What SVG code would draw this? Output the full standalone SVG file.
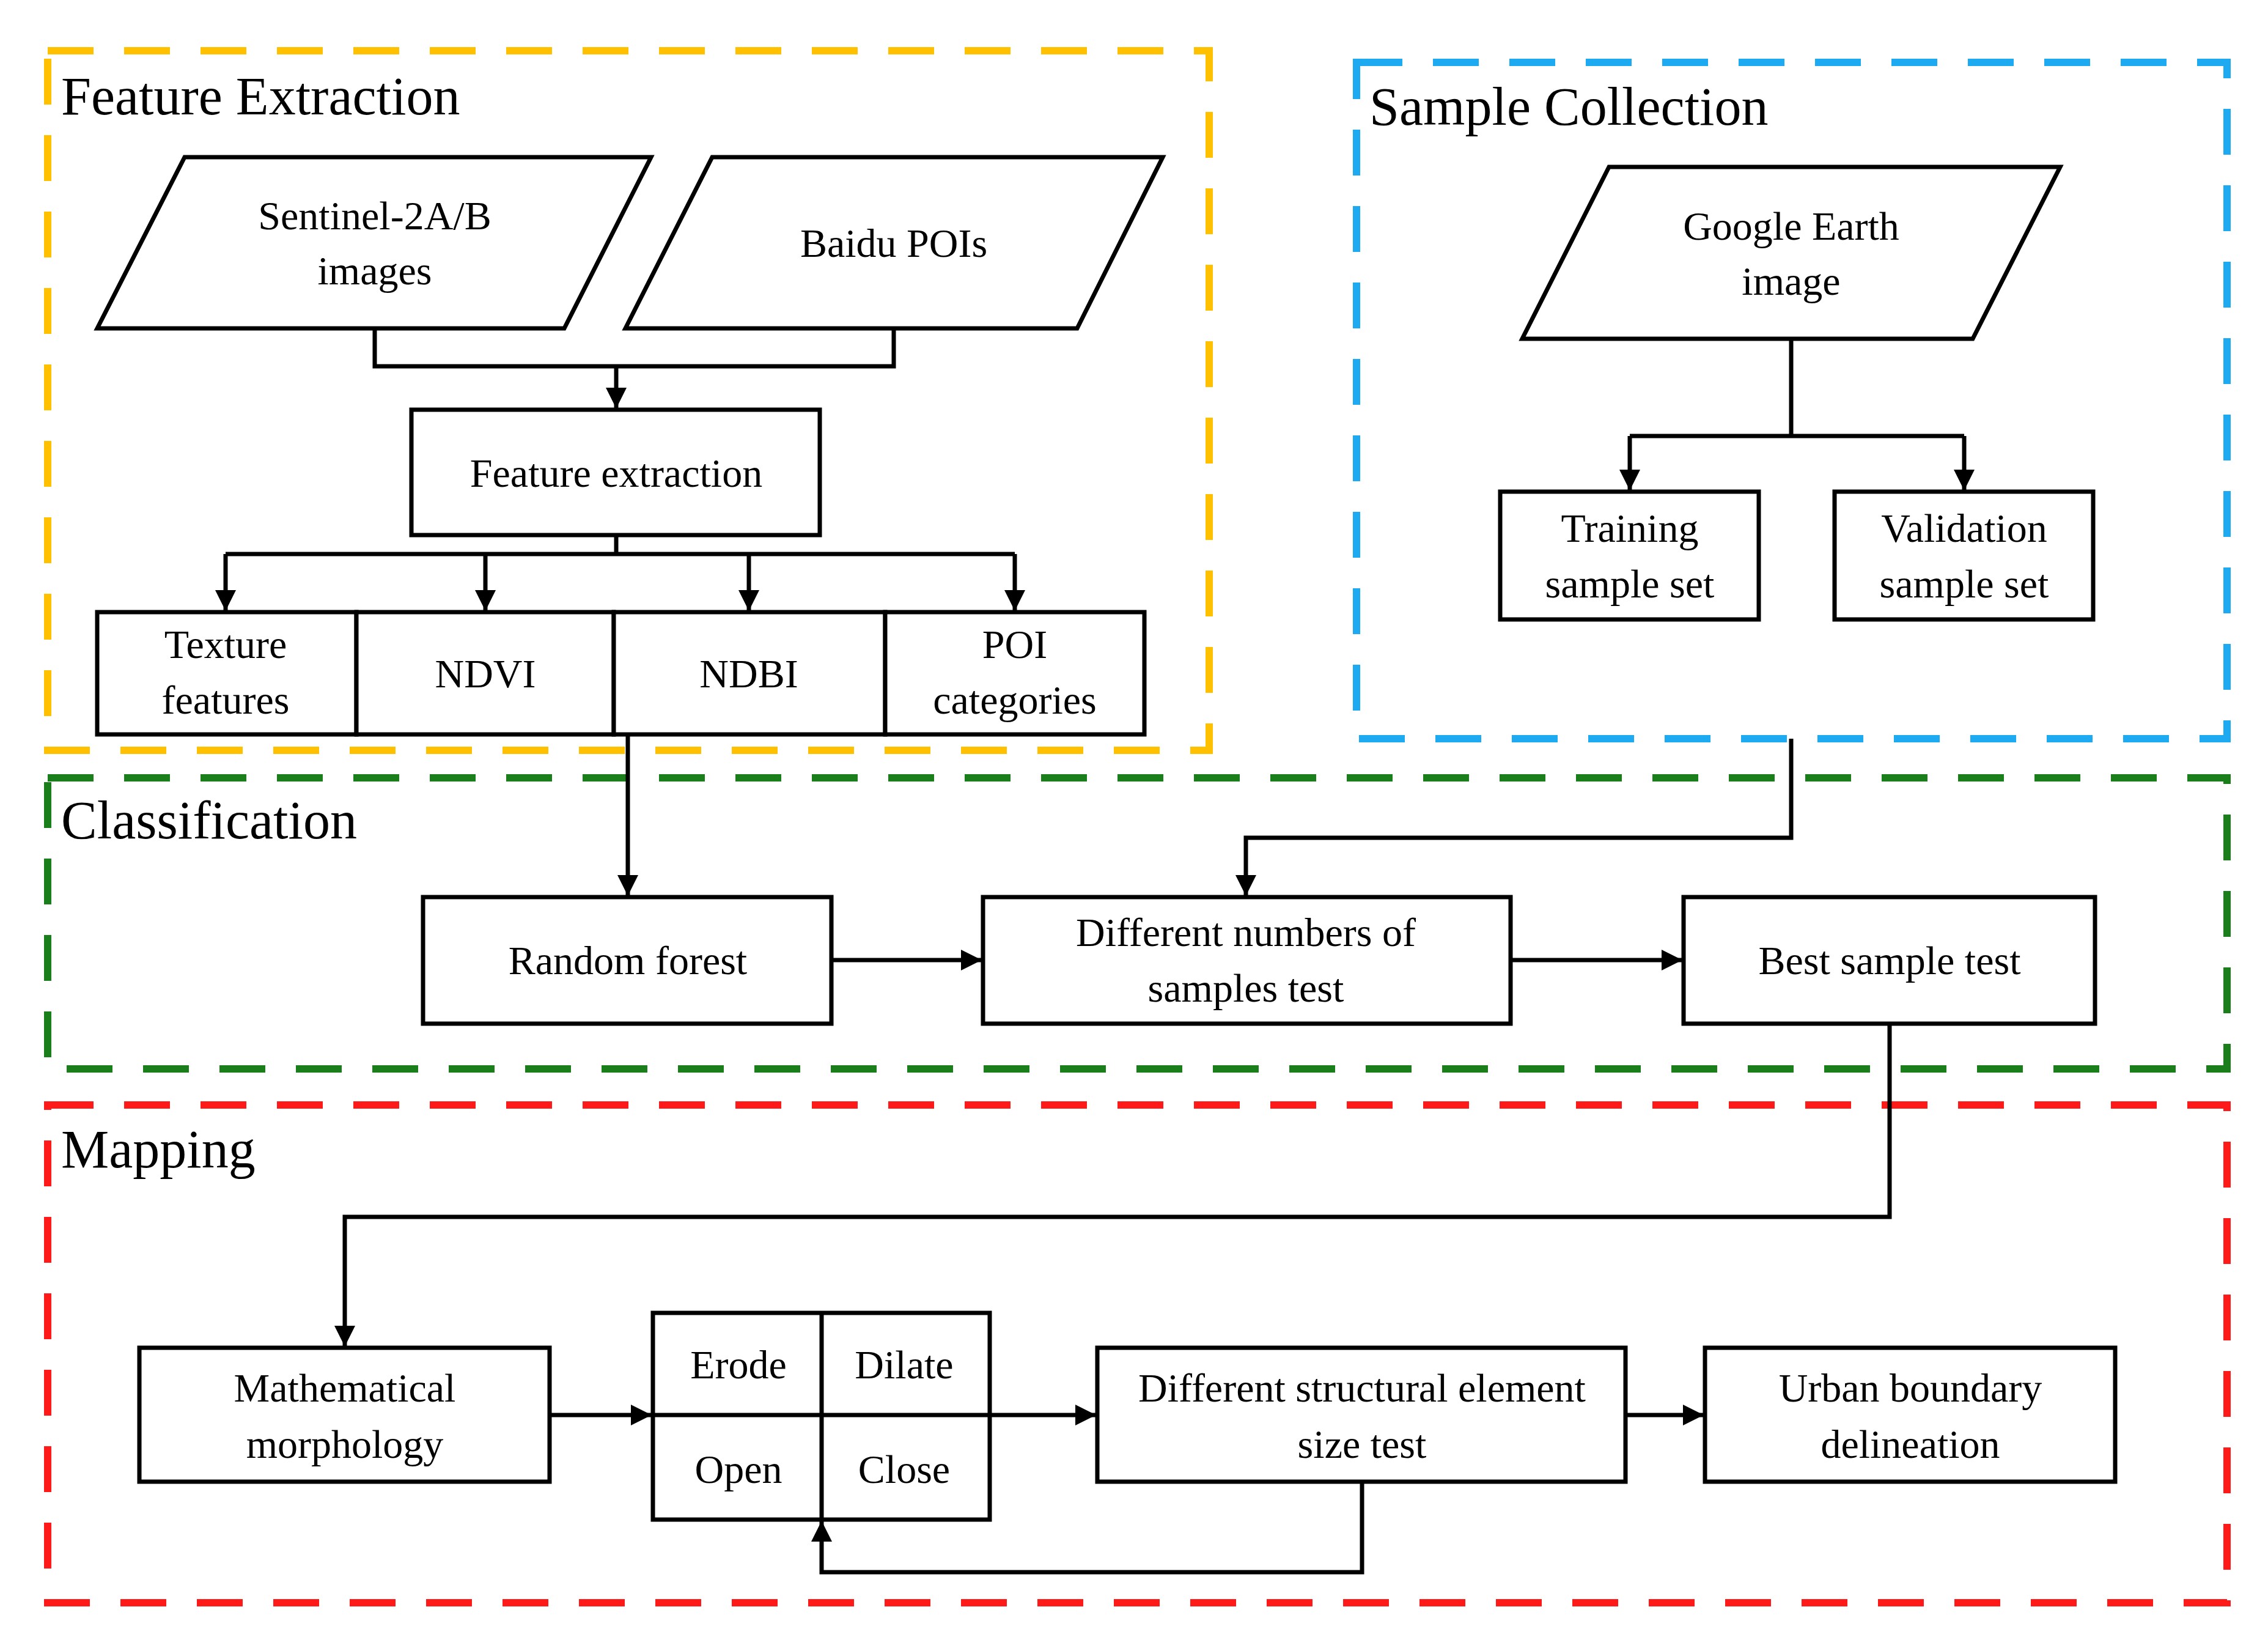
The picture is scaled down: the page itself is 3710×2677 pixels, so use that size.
<svg xmlns="http://www.w3.org/2000/svg" width="3710" height="2677" viewBox="0 0 3710 2677">
<style>
.f{fill:none;stroke-width:12;stroke-dasharray:75 50}
.b{fill:#fff;stroke:#000;stroke-width:7}
.c{fill:none;stroke:#000;stroke-width:7}
.t{font-family:"Liberation Serif",serif;font-size:66px;text-anchor:middle;dominant-baseline:central;fill:#000}
.h{font-family:"Liberation Serif",serif;font-size:88px;dominant-baseline:central;fill:#000}
</style>
<defs>
<marker id="a" markerUnits="userSpaceOnUse" markerWidth="34" markerHeight="34" viewBox="0 0 10 10" refX="10" refY="5" orient="auto"><path d="M0,0 L10,5 L0,10 z" fill="#000"/></marker>
</defs>
<rect width="3710" height="2677" fill="#fff"/>
<g id="frames">
<rect class="f" x="78" y="83" width="1900" height="1144" stroke="#FFC000"/>
<rect class="f" x="2219" y="102" width="1424" height="1106" stroke="#1EAAF1"/>
<rect class="f" x="78" y="1272" width="3565" height="476" stroke="#1A7F1A"/>
<rect class="f" x="78" y="1807" width="3565" height="814" stroke="#FF1A1A"/>
<text class="h" x="100" y="157">Feature Extraction</text>
<text class="h" x="2240" y="174">Sample Collection</text>
<text class="h" x="100" y="1341">Classification</text>
<text class="h" x="100" y="1879">Mapping</text>
</g>
<g id="connectors">
<path class="c" d="M613,537V599H1462V537"/>
<path class="c" d="M1008,599V668" marker-end="url(#a)"/>
<path class="c" d="M1008,875V906"/>
<path class="c" d="M369,906H1660"/>
<path class="c" d="M369,906V999" marker-end="url(#a)"/>
<path class="c" d="M794,906V999" marker-end="url(#a)"/>
<path class="c" d="M1225,906V999" marker-end="url(#a)"/>
<path class="c" d="M1660,906V999" marker-end="url(#a)"/>
<path class="c" d="M2930,554V713"/>
<path class="c" d="M2666,713H3213"/>
<path class="c" d="M2666,713V802" marker-end="url(#a)"/>
<path class="c" d="M3213,713V802" marker-end="url(#a)"/>
<path class="c" d="M1027,1201V1465" marker-end="url(#a)"/>
<path class="c" d="M2930,1208V1370H2038V1465" marker-end="url(#a)"/>
<path class="c" d="M1360,1570H1606" marker-end="url(#a)"/>
<path class="c" d="M2471,1570H2752" marker-end="url(#a)"/>
<path class="c" d="M3091,1674V1990H564V2202" marker-end="url(#a)"/>
<path class="c" d="M899,2314H1066" marker-end="url(#a)"/>
<path class="c" d="M1619,2314H1793" marker-end="url(#a)"/>
<path class="c" d="M2659,2314H2787" marker-end="url(#a)"/>
<path class="c" d="M2228,2423V2571H1344V2487" marker-end="url(#a)"/>
</g>
<g id="sentinel"><polygon class="b" points="159,537 302,257 1065,257 923,537"/><text class="t" x="613" y="352">Sentinel-2A/B</text><text class="t" x="613" y="442">images</text></g>
<g id="baidu"><polygon class="b" points="1023,537 1165,257 1902,257 1762,537"/><text class="t" x="1462" y="397">Baidu POIs</text></g>
<g id="google"><polygon class="b" points="2490,554 2632,273 3370,273 3227,554"/><text class="t" x="2930" y="369">Google Earth</text><text class="t" x="2930" y="459">image</text></g>
<g id="featext"><rect class="b" x="673" y="670" width="668" height="205"/><text class="t" x="1008" y="773">Feature extraction</text></g>
<g id="texture"><rect class="b" x="159" y="1001" width="424" height="200"/><text class="t" x="369" y="1053">Texture</text><text class="t" x="369" y="1144">features</text></g>
<g id="ndvi"><rect class="b" x="583" y="1001" width="421" height="200"/><text class="t" x="794" y="1101">NDVI</text></g>
<g id="ndbi"><rect class="b" x="1004" y="1001" width="444" height="200"/><text class="t" x="1225" y="1101">NDBI</text></g>
<g id="poi"><rect class="b" x="1448" y="1001" width="424" height="200"/><text class="t" x="1660" y="1053">POI</text><text class="t" x="1660" y="1144">categories</text></g>
<g id="training"><rect class="b" x="2454" y="804" width="423" height="209"/><text class="t" x="2666" y="863">Training</text><text class="t" x="2666" y="954">sample set</text></g>
<g id="validation"><rect class="b" x="3001" y="804" width="423" height="209"/><text class="t" x="3213" y="863">Validation</text><text class="t" x="3213" y="954">sample set</text></g>
<g id="rf"><rect class="b" x="692" y="1467" width="668" height="207"/><text class="t" x="1027" y="1570">Random forest</text></g>
<g id="diffnum"><rect class="b" x="1608" y="1467" width="863" height="207"/><text class="t" x="2038" y="1524">Different numbers of</text><text class="t" x="2038" y="1615">samples test</text></g>
<g id="best"><rect class="b" x="2754" y="1467" width="673" height="207"/><text class="t" x="3091" y="1570">Best sample test</text></g>
<g id="math"><rect class="b" x="228" y="2204" width="671" height="219"/><text class="t" x="564" y="2269">Mathematical</text><text class="t" x="564" y="2361">morphology</text></g>
<g id="ops"><rect class="b" x="1068" y="2147" width="551" height="338"/><path class="c" d="M1344,2147V2485M1068,2314H1619"/>
<text class="t" x="1208" y="2231">Erode</text><text class="t" x="1479" y="2231">Dilate</text><text class="t" x="1208" y="2402">Open</text><text class="t" x="1479" y="2402">Close</text></g>
<g id="struct"><rect class="b" x="1795" y="2204" width="864" height="219"/><text class="t" x="2228" y="2269">Different structural element</text><text class="t" x="2228" y="2361">size test</text></g>
<g id="urban"><rect class="b" x="2789" y="2204" width="671" height="219"/><text class="t" x="3125" y="2269">Urban boundary</text><text class="t" x="3125" y="2361">delineation</text></g>
</svg>
